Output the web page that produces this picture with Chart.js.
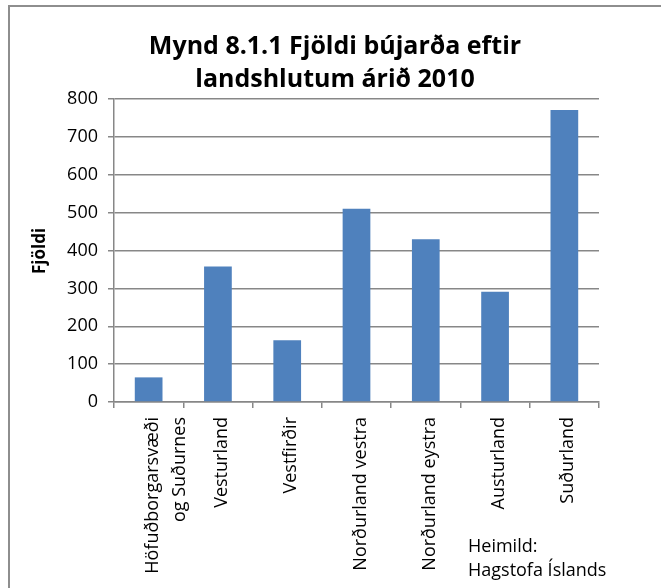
<!DOCTYPE html>
<html lang="is">
<head>
<meta charset="utf-8">
<title>Fjöldi bújarða eftir landshlutum árið 2010</title>
<script src="https://cdn.jsdelivr.net/npm/chart.js@4.4.1/dist/chart.umd.min.js"></script>
<style>
  html, body { margin: 0; padding: 0; background: #fff; }
  canvas { display: block; }
</style>
</head>
<body>
<canvas id="bujardir" width="661" height="588"></canvas>
<script>
  // gögn
  const landshlutar = [
    ["Höfuðborgarsvæði", "og Suðurnes"],
    "Vesturland",
    "Vestfirðir",
    "Norðurland vestra",
    "Norðurland eystra",
    "Austurland",
    "Suðurland",
  ];
  const fjoldi = [65, 358, 163, 510, 430, 291, 771];
  const yTicks = [0, 100, 200, 300, 400, 500, 600, 700, 800];
  const titill = ["Mynd 8.1.1 Fjöldi bújarða eftir", "landshlutum árið 2010"];
  const asTitill = "Fjöldi";
  const heimild = ["Heimild:", "Hagstofa Íslands"];

  const grar = "#878787";
  const letur = "'Open Sans', 'Liberation Sans', sans-serif";

  // rammi, titill, titill y-áss og heimildartexti
  const rammi = {
    id: "rammi",
    beforeDraw(chart) {
      const c = chart.ctx;
      c.save();
      c.fillStyle = "#fff";
      c.fillRect(0, 0, chart.width, chart.height);
      c.strokeStyle = "#8e8e8e";
      c.lineWidth = 2;
      c.strokeRect(9, 6, 700, 700);
      c.restore();
    },
    afterDraw(chart) {
      const c = chart.ctx;
      c.save();
      c.fillStyle = "#000";
      c.textBaseline = "middle";

      c.textAlign = "center";
      c.font = "bold 25px " + letur;
      c.fillText(titill[0], 335, 47);
      c.fillText(titill[1], 335, 80);

      c.textAlign = "left";
      c.font = "18px " + letur;
      c.fillText(heimild[0], 468, 547);
      c.fillText(heimild[1], 468, 571);

      c.translate(40, 251);
      c.rotate(-Math.PI / 2);
      c.textAlign = "center";
      c.font = "bold 17px " + letur;
      c.fillText(asTitill, 0, 0);
      c.restore();
    },
  };

  const ctx = document.getElementById("bujardir");

  var bujardirGraf = new Chart(ctx, {
    type: "bar",
    data: {
      labels: landshlutar,
      datasets: [
        {
          label: asTitill,
          data: fjoldi,
          backgroundColor: "#4F81BD",
          borderWidth: 0,
          barPercentage: 0.4,
          categoryPercentage: 1,
        },
      ],
    },
    options: {
      responsive: false,
      animation: false,
      layout: {
        padding: { left: 10, right: 62, top: 99, bottom: 0 },
      },
      plugins: {
        legend: { display: false },
        tooltip: { enabled: false },
        title: { display: false },
      },
      scales: {
        x: {
          afterFit(scale) {
            scale.height = 186;
          },
          border: { display: true, color: grar, width: 1.5 },
          grid: {
            drawOnChartArea: false,
            drawTicks: true,
            tickLength: 6,
            color: grar,
            lineWidth: 1.5,
          },
          ticks: {
            color: "#000",
            font: { family: letur, size: 18, lineHeight: 1.5 },
            maxRotation: 90,
            minRotation: 90,
            padding: 9,
            labelOffset: 4,
            autoSkip: false,
          },
        },
        y: {
          min: 0,
          max: 800,
          afterFit(scale) {
            scale.width = 104;
          },
          afterBuildTicks(scale) {
            scale.ticks = yTicks.map((v) => ({ value: v }));
          },
          border: { display: true, color: grar, width: 1.5 },
          grid: {
            color: grar,
            lineWidth: 1.5,
            tickLength: 6,
          },
          ticks: {
            color: "#000",
            font: { family: letur, size: 18 },
            padding: 10,
          },
        },
      },
    },
    plugins: [rammi],
  });
</script>
</body>
</html>
